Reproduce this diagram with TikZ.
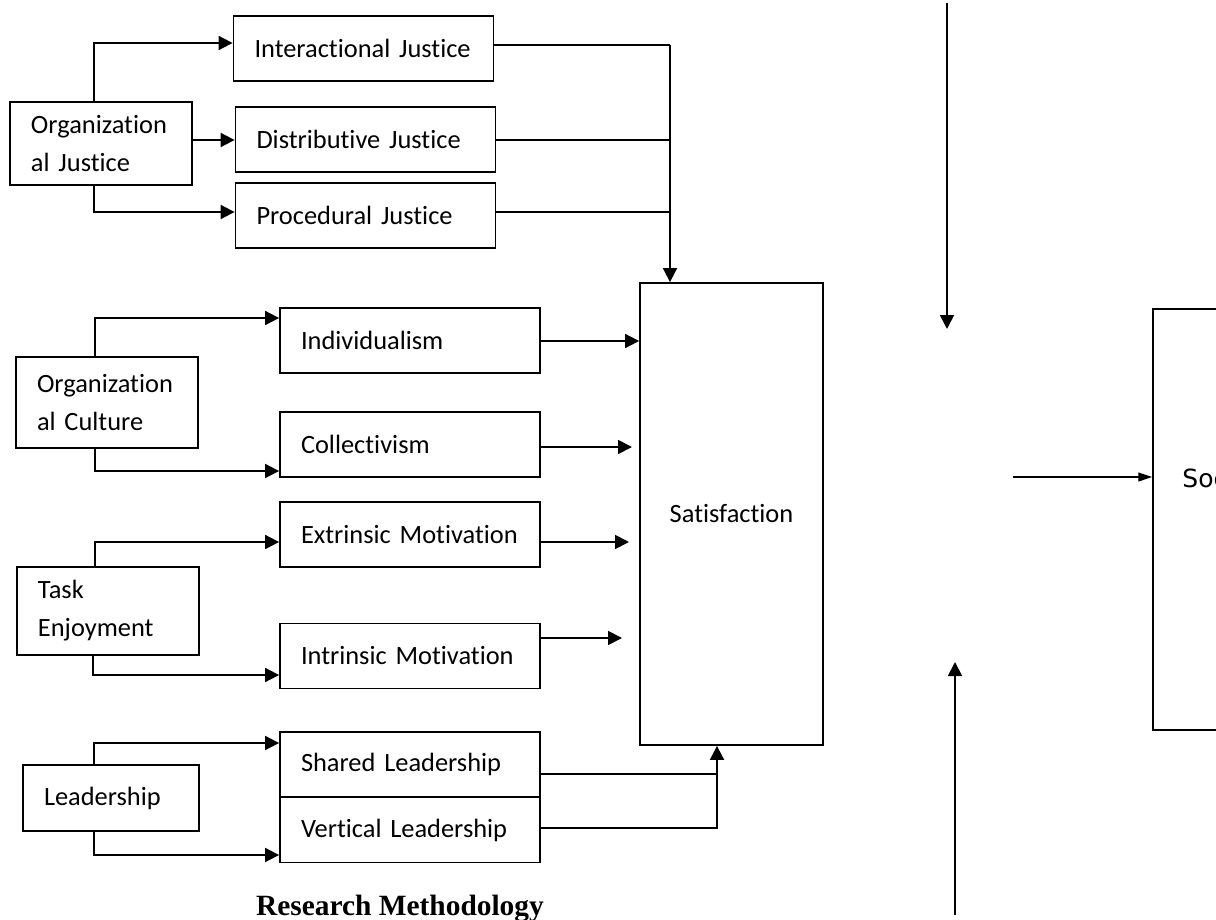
\documentclass[tikz,border=0pt]{standalone}
\usepackage{fontspec}
\setmainfont{Carlito}[Ligatures={NoCommon}]
\newfontfamily\titlefont{Liberation Serif}
\newfontfamily\socfont{DejaVu Sans}
\usetikzlibrary{arrows.meta}
\tikzset{
  block/.style={draw, line width=0.9pt, align=left, inner xsep=10.5pt, inner ysep=0pt,
    text width=109pt, minimum height=32.5pt, font=\fontsize{13.2}{19}\selectfont},
  small/.style={block, text width=70pt},
  arr/.style={line width=0.9pt, -{Triangle[length=7pt,width=7pt]}},
  lin/.style={line width=0.9pt}
}
\begin{document}
\begin{tikzpicture}[x=0.5pt,y=-0.5pt]
\useasboundingbox (0,0) rectangle (1216,920);
\clip (0,0) rectangle (1216,920);
% justice
\node[small, minimum height=41.5pt] (orgj) at (101,143.5) {Organization\\al Justice};
\node[block] (intj) at (363.5,48.5) {Interactional Justice};
\node[block] (distj) at (365.5,139.5) {Distributive Justice};
\node[block] (procj) at (365.5,215.5) {Procedural Justice};
% culture
\node[small, minimum height=45.5pt] (orgc) at (107,402.5) {Organization\\al Culture};
\node[block] (indiv) at (410,340.5) {Individualism};
\node[block] (coll) at (410,444.5) {Collectivism};
% motivation
\node[small, minimum height=44pt] (task) at (108,611) {Task\\Enjoyment};
\node[block] (extr) at (410,534.5) {Extrinsic Motivation};
\node[block] (intr) at (410,656) {Intrinsic Motivation};
% leadership
\node[small, text width=67pt, minimum height=33pt] (lead) at (111,798) {Leadership};
\node[block] (shared) at (410,764.5) {Shared Leadership};
\node[block] (vert) at (410,830) {Vertical Leadership};
% outcome
\node[draw, line width=0.9pt, minimum width=91.5pt, minimum height=231pt,
  font=\fontsize{13.2}{16}\selectfont] (sat) at (731.5,514) {Satisfaction};
\node[draw, line width=0.75pt, minimum width=91.5pt, minimum height=210.5pt] (soc) at (1244.5,519.5) {};
\node[anchor=west, inner sep=0pt, font=\socfont\fontsize{12.5}{15}\selectfont] (soctext) at (1182,478) {Soc};
\node[font=\titlefont\bfseries\fontsize{14.7}{17}\selectfont] (title) at (400,909) {Research Methodology};

\coordinate (jmerge) at (670,45);
\coordinate (lmerge) at (717,828);
\coordinate (collend) at (632,447);
\coordinate (extrend) at (629,542);
\coordinate (intrend) at (622,638);
\coordinate (dtop) at (947,3);
\coordinate (dend) at (947,329);
\coordinate (ubot) at (955,915);
\coordinate (utop) at (955,662);
\coordinate (hstart) at (1013,477);

\draw[arr] (orgj.north -| 94,0) |- (intj.west |- 0,43);
\draw[arr] (orgj.east |- 0,140) -- (distj.west |- 0,140);
\draw[arr] (orgj.south -| 94,0) |- (procj.west |- 0,212);
\draw[lin] (intj.east |- jmerge) -- (jmerge);
\draw[lin] (distj.east |- 0,140) -- (jmerge |- 0,140);
\draw[lin] (procj.east |- 0,212) -- (jmerge |- 0,212);
\draw[arr] (jmerge) -- (sat.north -| jmerge);

\draw[arr] (orgc.north -| 95,0) |- (indiv.west |- 0,318);
\draw[arr] (orgc.south -| 95,0) |- (coll.west |- 0,471);
\draw[arr] (indiv.east |- 0,341) -- (sat.west |- 0,341);
\draw[arr] (coll.east |- collend) -- (collend);

\draw[arr] (task.north -| 95,0) |- (extr.west |- extrend);
\draw[arr] (task.south -| 93,0) |- (intr.west |- 0,675);
\draw[arr] (extr.east |- extrend) -- (extrend);
\draw[arr] (intr.east |- intrend) -- (intrend);

\draw[arr] (lead.north -| 94,0) |- (shared.west |- 0,743);
\draw[arr] (lead.south -| 94,0) |- (vert.west |- 0,855);
\draw[lin] (shared.east |- 0,774) -- (lmerge |- 0,774);
\draw[arr] (vert.east |- lmerge) -- (lmerge) -- (sat.south -| lmerge);

\draw[arr] (dtop) -- (dend);
\draw[arr] (ubot) -- (utop);
\draw[line width=0.6pt, -{Triangle[length=7pt,width=4.5pt]}] (hstart) -- (soc.west |- hstart);
\end{tikzpicture}
\end{document}
